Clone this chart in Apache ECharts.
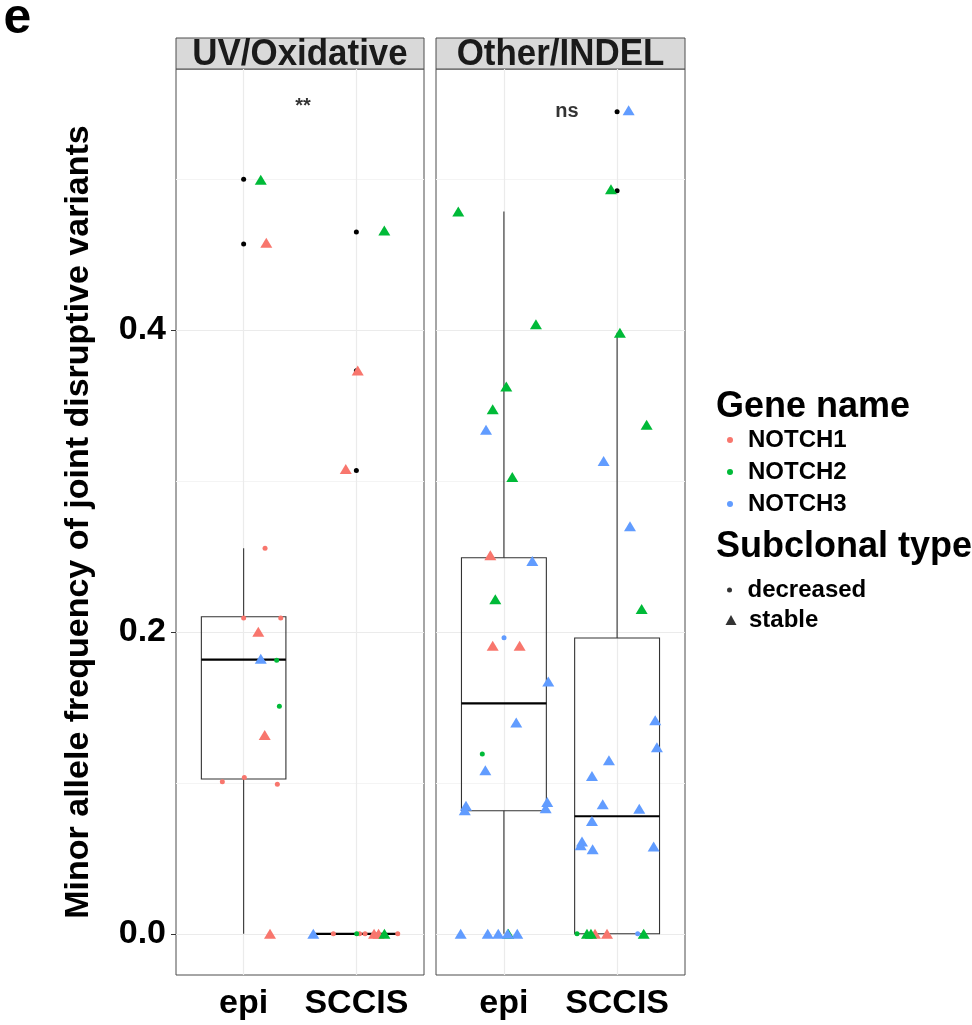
<!DOCTYPE html>
<html><head><meta charset="utf-8">
<script src="https://cdn.jsdelivr.net/npm/echarts@6/dist/echarts.min.js"></script>
<style>html,body{margin:0;padding:0;background:#fff}#c{width:972px;height:1025px}</style>
</head><body><div id="c"></div>
<script>
// ---------------- data ----------------
const panels = ['UV/Oxidative', 'Other/INDEL'];
const categories = ['epi', 'SCCIS'];
const genes = ['NOTCH1', 'NOTCH2', 'NOTCH3'];
const geneColors = ['#F8766D', '#00BA38', '#619CFF'];
const subclonalTypes = ['decreased', 'stable'];
const yTicks = [0, 0.2, 0.4];
const yMinor = [0.1, 0.3, 0.5];
const yTitle = 'Minor allele frequency of joint disruptive variants';
const sigLabels = [['**', 1.527, 0.548], ['ns', 1.557, 0.545]];

// boxes: [category position, lower whisker, Q1, median, Q3, upper whisker]
const uvBoxes = [[1, 0, 0.1026, 0.1817, 0.2101, 0.2554], [2, 0, 0, 0, 0, 0]];
const otherBoxes = [[1, 0, 0.0815, 0.1527, 0.2492, 0.4786], [2, 0, 0, 0.0779, 0.196, 0.3982]];
const uvOutliers = [[1, 0.5], [1, 0.457], [2, 0.465], [2, 0.373], [2, 0.307]];
const otherOutliers = [[2, 0.5446], [2, 0.4923]];

// jittered points [x position, value]
const uvN1Stable = [[1.201, 0.4578], [2.012, 0.3733], [1.906, 0.308], [1.130, 0.2002], [1.187, 0.1318], [1.234, 0], [2.157, 0], [2.197, 0]];
const uvN1Decreased = [[1.190, 0.2554], [1.0, 0.2093], [1.329, 0.2093], [0.811, 0.1007], [1.006, 0.1035], [1.299, 0.0991], [1.796, 0], [2.028, 0], [2.077, 0], [2.367, 0]];
const uvN2Stable = [[1.152, 0.4997], [2.248, 0.466], [2.249, 0]];
const uvN2Decreased = [[1.293, 0.1812], [1.317, 0.1508], [2.003, 0]];
const uvN3Stable = [[1.152, 0.1823], [1.618, 0]];
const uvN3Decreased = [];

const otN1Stable = [[0.88, 0.2508], [0.901, 0.1909], [1.139, 0.1909], [1.805, 0], [1.911, 0]];
const otN1Decreased = [];
const otN2Stable = [[1.946, 0.4934], [0.597, 0.4786], [1.283, 0.4038], [2.025, 0.3982], [1.021, 0.3627], [0.901, 0.3475], [2.261, 0.3373], [1.074, 0.3026], [0.924, 0.2216], [2.217, 0.2152], [1.039, 0], [1.734, 0], [1.769, 0], [2.235, 0]];
const otN2Decreased = [[0.809, 0.1192], [1.646, 0]];
const otN3Stable = [[2.102, 0.5457], [0.842, 0.334], [1.881, 0.3132], [2.114, 0.27], [1.251, 0.247], [1.392, 0.1671], [2.337, 0.1415], [1.109, 0.14], [2.352, 0.1236], [1.928, 0.115], [0.836, 0.1084], [1.778, 0.1046], [1.383, 0.0874], [1.369, 0.0832], [0.665, 0.0848], [0.654, 0.0819], [1.873, 0.0859], [2.196, 0.0828], [1.778, 0.0748], [1.69, 0.0611], [1.678, 0.0587], [1.784, 0.056], [2.323, 0.0578], [0.618, 0], [0.857, 0], [0.95, 0], [1.033, 0], [1.118, 0]];
const otN3Decreased = [[1.001, 0.1962], [2.182, 0]];

// ---------------- build ----------------
const FONT = 'Liberation Sans, Arial, sans-serif';
const panelPoints = [
  [[uvN1Decreased, uvN1Stable], [uvN2Decreased, uvN2Stable], [uvN3Decreased, uvN3Stable]],
  [[otN1Decreased, otN1Stable], [otN2Decreased, otN2Stable], [otN3Decreased, otN3Stable]]
];
const panelBoxes = [uvBoxes, otherBoxes];
const panelOutliers = [uvOutliers, otherOutliers];

const grids = [
  {left: 176, top: 69, width: 248, height: 906},
  {left: 436, top: 69, width: 249, height: 906}
].map(g => Object.assign(g, {show: true, borderColor: '#4d4d4d', borderWidth: 1, backgroundColor: '#fff', containLabel: false}));

const xAxes = [0, 1].map(i => ({
  type: 'value', gridIndex: i, min: 0.4, max: 2.6,
  axisLine: {show: false}, splitLine: {show: false},
  axisTick: {show: true, customValues: [1, 2], length: 5, lineStyle: {color: '#333', width: 1}},
  axisLabel: {customValues: [1, 2], formatter: v => categories[Math.round(v) - 1], margin: 12,
    color: '#000', fontSize: 34, fontWeight: 'bold', fontFamily: FONT}
}));
const yAxes = [0, 1].map(i => ({
  type: 'value', gridIndex: i, min: -0.0273, max: 0.573,
  axisLine: {show: false}, splitLine: {show: false},
  axisTick: {show: i === 0, customValues: yTicks, length: 5, lineStyle: {color: '#333', width: 1}},
  axisLabel: {show: i === 0, customValues: yTicks, formatter: v => v.toFixed(1), margin: 10,
    color: '#000', fontSize: 34, fontWeight: 'bold', fontFamily: FONT},
  name: i === 0 ? yTitle : '', nameLocation: 'middle', nameGap: 80, nameRotate: 90,
  nameTextStyle: {fontSize: 34, fontWeight: 'bold', color: '#000', fontFamily: FONT}
}));

const series = [];
[0, 1].forEach(p => {
  const gridLines = [];
  yTicks.forEach(v => gridLines.push({yAxis: v, lineStyle: {color: '#EBEBEB', width: 1.2, type: 'solid'}}));
  yMinor.forEach(v => gridLines.push({yAxis: v, lineStyle: {color: '#F4F4F4', width: 1, type: 'solid'}}));
  [1, 2].forEach(v => gridLines.push({xAxis: v, lineStyle: {color: '#EBEBEB', width: 1.2, type: 'solid'}}));
  // boxes
  series.push({
    type: 'custom', xAxisIndex: p, yAxisIndex: p, z: 2, silent: true,
    data: panelBoxes[p],
    encode: {x: 0, y: [1, 2, 3, 4, 5]},
    renderItem: (params, api) => {
      const x = api.value(0);
      const lo = api.coord([x, api.value(1)]);
      const q1 = api.coord([x - 0.375, api.value(2)]);
      const med = api.coord([x, api.value(3)]);
      const q3 = api.coord([x + 0.375, api.value(4)]);
      const hi = api.coord([x, api.value(5)]);
      const cx = med[0];
      const stroke = {stroke: '#333', lineWidth: 1.1};
      return {type: 'group', children: [
        {type: 'line', shape: {x1: cx, y1: q3[1], x2: cx, y2: hi[1]}, style: stroke},
        {type: 'line', shape: {x1: cx, y1: q1[1], x2: cx, y2: lo[1]}, style: stroke},
        {type: 'rect', shape: {x: q1[0], y: q3[1], width: q3[0] - q1[0], height: q1[1] - q3[1]}, style: {fill: 'none', stroke: '#333', lineWidth: 1.1}},
        {type: 'line', shape: {x1: q1[0], y1: med[1], x2: q3[0], y2: med[1]}, style: {stroke: '#000', lineWidth: 2.2}}
      ]};
    }
  });
  // outliers + gridlines
  series.push({
    type: 'scatter', name: 'outlier', xAxisIndex: p, yAxisIndex: p, z: 3, silent: true,
    symbol: 'circle', symbolSize: 5, itemStyle: {color: '#000', opacity: 1},
    data: panelOutliers[p],
    markLine: {silent: true, symbol: 'none', label: {show: false}, z: 1, animation: false, data: gridLines}
  });
  // jittered points
  genes.forEach((g, gi) => {
    const [dec, sta] = panelPoints[p][gi];
    const data = dec.map(d => ({value: d, symbol: 'circle', symbolSize: 5}))
      .concat(sta.map(d => ({value: d, symbol: 'triangle', symbolSize: [12, 10]})));
    series.push({
      type: 'scatter', name: g, xAxisIndex: p, yAxisIndex: p, z: 4,
      itemStyle: {color: geneColors[gi], opacity: 1}, data
    });
  });
  // significance label
  const s = sigLabels[p];
  series.push({
    type: 'scatter', xAxisIndex: p, yAxisIndex: p, z: 5, silent: true, symbolSize: 0,
    data: [[s[1], s[2]]],
    label: {show: true, position: 'inside', formatter: s[0], fontSize: 20, fontWeight: 'bold', color: '#000', fontFamily: FONT}
  });
});
subclonalTypes.forEach(t => series.push({
  type: 'scatter', name: t, xAxisIndex: 0, yAxisIndex: 0, data: [], itemStyle: {color: '#000'}
}));

const legendText = {fontSize: 24, fontWeight: 'bold', color: '#000', fontFamily: FONT, lineHeight: 24};
const option = {
  animation: false,
  backgroundColor: '#fff',
  grid: grids, xAxis: xAxes, yAxis: yAxes, series,
  title: [
    {text: 'Gene name', left: 716, top: 389, padding: 0, textStyle: {fontSize: 36, fontWeight: 'bold', color: '#000', fontFamily: FONT}},
    {text: 'Subclonal type', left: 716, top: 529, padding: 0, textStyle: {fontSize: 36, fontWeight: 'bold', color: '#000', fontFamily: FONT}}
  ],
  legend: [
    {data: genes.map(g => ({name: g, icon: 'circle'})), orient: 'vertical', left: 727, top: 428, padding: 0,
      itemWidth: 26, itemHeight: 6, itemGap: 8, selectedMode: false, textStyle: legendText},
    {data: [{name: 'decreased', icon: 'circle'}], orient: 'vertical', left: 727, top: 578, padding: 0,
      itemWidth: 26, itemHeight: 5, selectedMode: false, textStyle: legendText},
    {data: [{name: 'stable', icon: 'path://M0,10 M13,0 L18.5,10 L7.5,10 Z M26,10'}], orient: 'vertical', left: 718, top: 608, padding: 0,
      itemWidth: 26, itemHeight: 10, selectedMode: false, textStyle: legendText}
  ],
  graphic: [
    {type: 'text', x: 17.5, y: 19, style: {text: 'e', fontSize: 50, fontWeight: 'bold', fill: '#000', fontFamily: FONT, align: 'center', verticalAlign: 'middle'}},
    {type: 'rect', shape: {x: 176, y: 38, width: 248, height: 31}, style: {fill: '#D9D9D9', stroke: '#4d4d4d', lineWidth: 1}},
    {type: 'rect', shape: {x: 436, y: 38, width: 249, height: 31}, style: {fill: '#D9D9D9', stroke: '#4d4d4d', lineWidth: 1}},
    {type: 'text', x: 300, y: 55, scaleX: 0.97, scaleY: 1.05, style: {text: panels[0], fontSize: 36, fontWeight: 'bold', fill: '#1a1a1a', fontFamily: FONT, align: 'center', verticalAlign: 'middle'}},
    {type: 'text', x: 560.5, y: 55, scaleX: 0.97, scaleY: 1.05, style: {text: panels[1], fontSize: 36, fontWeight: 'bold', fill: '#1a1a1a', fontFamily: FONT, align: 'center', verticalAlign: 'middle'}}
  ]
};
const chart = echarts.init(document.getElementById('c'), null, {renderer: 'canvas'});
chart.setOption(option);
</script></body></html>
